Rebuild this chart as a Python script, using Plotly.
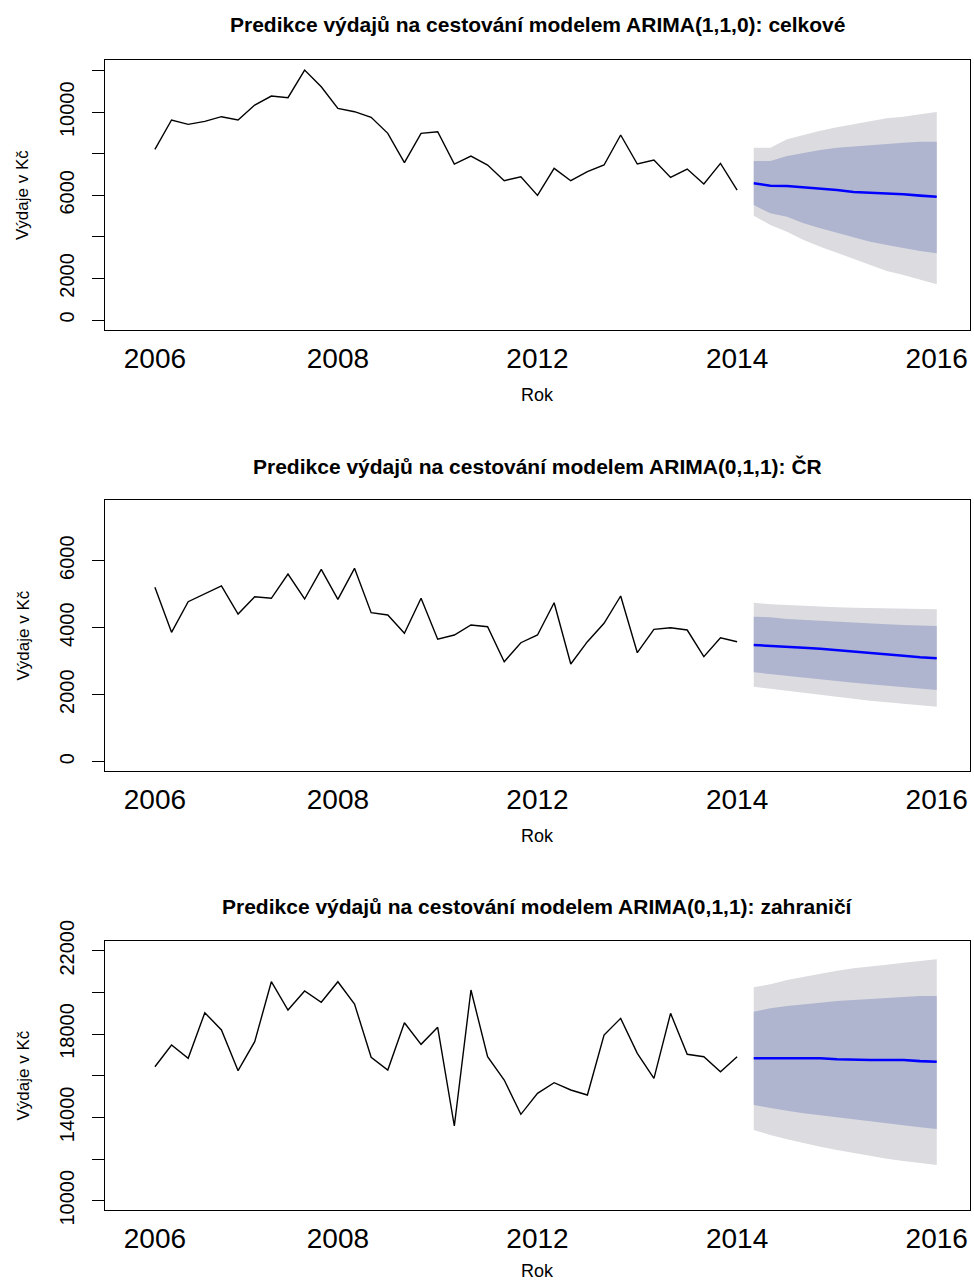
import plotly.graph_objects as go

# ---------------- data ----------------
obs_idx = list(range(36))          # quarterly observations (position index)
fc_idx = list(range(36, 48))       # forecast horizon (position index)

tick_pos = [0, 11, 23, 35, 47]
tick_labels = ["2006", "2008", "2012", "2014", "2016"]

titles = [
    "Predikce výdajů na cestování modelem ARIMA(1,1,0): celkové",
    "Predikce výdajů na cestování modelem ARIMA(0,1,1): ČR",
    "Predikce výdajů na cestování modelem ARIMA(0,1,1): zahraničí",
]

# panel 1: celkové
obs1 = [8215, 9626, 9418, 9563, 9786, 9626, 10348, 10781, 10700, 12032, 11230, 10188,
        10027, 9756, 8986, 7572, 8986, 9063, 7508, 7893, 7460, 6705, 6897, 6000,
        7300, 6705, 7138, 7460, 8904, 7508, 7700, 6866, 7268, 6546, 7540, 6257]
mean1 = [6579, 6464, 6449, 6387, 6320, 6257, 6161, 6127, 6098, 6050, 5985, 5936]
hi95_1 = [8293, 8293, 8697, 8904, 9111, 9275, 9433, 9563, 9708, 9785, 9900, 10011]
hi80_1 = [7653, 7653, 7893, 8052, 8182, 8293, 8341, 8423, 8471, 8534, 8582, 8582]
lo80_1 = [5535, 5135, 4972, 4654, 4413, 4173, 3980, 3769, 3610, 3451, 3321, 3210]
lo95_1 = [5020, 4572, 4250, 3850, 3530, 3210, 2921, 2647, 2358, 2166, 1959, 1718]

# panel 2: ČR
obs2 = [5206, 3862, 4776, 5006, 5245, 4409, 4925, 4877, 5603, 4857, 5743, 4847,
        5773, 4448, 4379, 3833, 4877, 3654, 3782, 4081, 4030, 2985, 3552, 3782,
        4746, 2916, 3582, 4131, 4946, 3254, 3952, 4000, 3931, 3134, 3701, 3582]
mean2 = [3484, 3463, 3424, 3403, 3373, 3334, 3284, 3245, 3206, 3164, 3116, 3087]
hi95_2 = [4746, 4698, 4678, 4648, 4627, 4609, 4597, 4588, 4579, 4558, 4549, 4549]
hi80_2 = [4328, 4310, 4260, 4230, 4200, 4170, 4140, 4119, 4101, 4081, 4060, 4051]
lo80_2 = [2669, 2618, 2558, 2508, 2460, 2409, 2358, 2310, 2260, 2221, 2179, 2140]
lo95_2 = [2239, 2170, 2110, 2042, 1991, 1940, 1881, 1821, 1773, 1722, 1684, 1642]

# panel 3: zahraničí
obs3 = [16432, 17474, 16835, 19024, 18194, 16240, 17632, 20512, 19154, 20066, 19523, 20512,
        19442, 16883, 16274, 18544, 17507, 18323, 13586, 20114, 16912, 15794, 14147, 15155,
        15664, 15314, 15074, 17954, 18754, 17075, 15875, 18995, 17027, 16912, 16192, 16912]
mean3 = [16835, 16835, 16835, 16835, 16835, 16790, 16754, 16754, 16754, 16754, 16700, 16672]
hi95_3 = [20243, 20387, 20594, 20754, 20915, 21040, 21155, 21232, 21328, 21424, 21506, 21587]
hi80_3 = [19072, 19235, 19346, 19442, 19504, 19586, 19634, 19682, 19730, 19792, 19826, 19826]
lo80_3 = [14594, 14464, 14320, 14195, 14066, 13984, 13874, 13792, 13715, 13619, 13523, 13442]
lo95_3 = [13394, 13154, 12947, 12755, 12592, 12434, 12275, 12146, 12016, 11906, 11795, 11714]

ytick_vals = [
    [0, 2000, 4000, 6000, 8000, 10000, 12000],
    [0, 2000, 4000, 6000],
    [10000, 12000, 14000, 16000, 18000, 20000, 22000],
]
ytick_text = [
    ["0", "2000", "", "6000", "", "10000", ""],
    ["0", "2000", "4000", "6000"],
    ["10000", "", "14000", "", "18000", "", "22000"],
]
y_ranges = [[-481, 12515], [-278, 7812], [9554, 22466]]

panels = [
    (obs1, mean1, hi95_1, hi80_1, lo80_1, lo95_1),
    (obs2, mean2, hi95_2, hi80_2, lo80_2, lo95_2),
    (obs3, mean3, hi95_3, hi80_3, lo80_3, lo95_3),
]

# ---------------- layout geometry (pixels) ----------------
W, H = 974, 1284
plot_px = [(60, 330), (500, 771), (941, 1210)]   # top, bottom of each plot box
title_px = [24, 466, 906]
xlab_px = [395, 836, 1271]
x_left, x_right = 105, 970

COL95 = "#DBDBE0"
COL80 = "#B0B5CF"
FONT = "Liberation Sans, Arial, sans-serif"

fig = go.Figure()
layout = dict(
    width=W, height=H, margin=dict(l=0, r=0, t=0, b=0, pad=0, autoexpand=False),
    paper_bgcolor="white", plot_bgcolor="white", showlegend=False,
    font=dict(family=FONT, color="black"),
)
annotations = []

for i, (obs, mean, hi95, hi80, lo80, lo95) in enumerate(panels):
    n = "" if i == 0 else str(i + 1)
    xa, ya = "x" + n, "y" + n
    # 95% band
    fig.add_trace(go.Scatter(x=fc_idx + fc_idx[::-1], y=hi95 + lo95[::-1], fill="toself",
                             fillcolor=COL95, line=dict(width=0), mode="lines",
                             xaxis=xa, yaxis=ya, hoverinfo="skip"))
    # 80% band
    fig.add_trace(go.Scatter(x=fc_idx + fc_idx[::-1], y=hi80 + lo80[::-1], fill="toself",
                             fillcolor=COL80, line=dict(width=0), mode="lines",
                             xaxis=xa, yaxis=ya, hoverinfo="skip"))
    # observed
    fig.add_trace(go.Scatter(x=obs_idx, y=obs, mode="lines",
                             line=dict(color="black", width=1.4), xaxis=xa, yaxis=ya))
    # forecast mean
    fig.add_trace(go.Scatter(x=fc_idx, y=mean, mode="lines",
                             line=dict(color="#0000FF", width=2.6), xaxis=xa, yaxis=ya))

    top, bot = plot_px[i]
    ydom = [1 - bot / H, 1 - top / H]
    layout["xaxis" + n] = dict(
        domain=[x_left / W, x_right / W], range=[-3.0, 49.0], anchor=ya, automargin=False,
        tickmode="array", tickvals=tick_pos, ticktext=tick_labels,
        ticks="outside", ticklen=3, tickcolor="rgba(0,0,0,0)",
        tickfont=dict(size=28, family=FONT, color="black"),
        showgrid=False, zeroline=False, showline=True, mirror=True,
        linecolor="black", linewidth=1.2,
    )
    layout["yaxis" + n] = dict(
        domain=ydom, range=y_ranges[i], anchor=xa, automargin=False,
        tickmode="array", tickvals=ytick_vals[i], ticktext=ytick_text[i],
        ticks="outside", ticklen=12, tickwidth=1.2, tickcolor="black",
        tickangle=-90, ticklabelstandoff=10,
        tickfont=dict(size=20, family=FONT, color="black"),
        showgrid=False, zeroline=False, showline=True, mirror=True,
        linecolor="black", linewidth=1.2,
    )
    annotations.append(dict(text="<b>" + titles[i] + "</b>", xref="paper", yref="paper",
                            x=(x_left + x_right) / 2 / W, y=1 - title_px[i] / H,
                            xanchor="center", yanchor="middle", showarrow=False,
                            font=dict(size=21, family=FONT, color="black")))
    annotations.append(dict(text="Rok", xref="paper", yref="paper",
                            x=(x_left + x_right) / 2 / W, y=1 - xlab_px[i] / H,
                            xanchor="center", yanchor="middle", showarrow=False,
                            font=dict(size=18, family=FONT, color="black")))
    annotations.append(dict(text="Výdaje v Kč", xref="paper", yref="paper",
                            x=23 / W, y=1 - (top + bot) / 2 / H, textangle=-90,
                            xanchor="center", yanchor="middle", showarrow=False,
                            font=dict(size=17, family=FONT, color="black")))

layout["annotations"] = annotations
fig.update_layout(**layout)
fig.write_html("out.html")
